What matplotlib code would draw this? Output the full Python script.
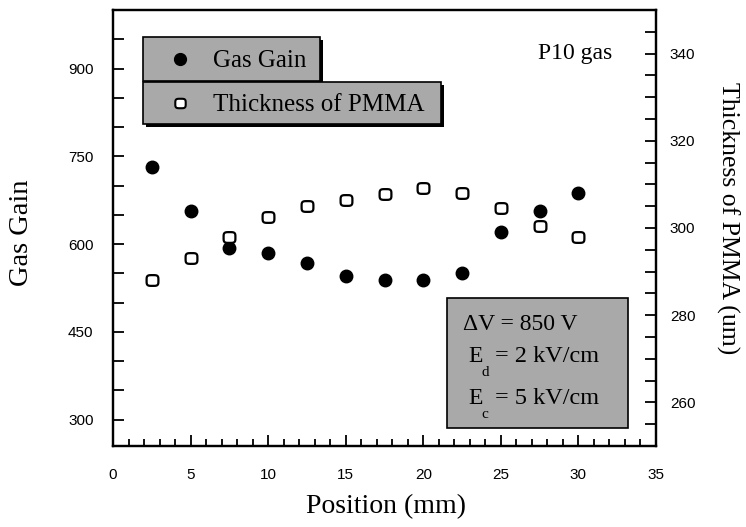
import numpy as np
import matplotlib
matplotlib.use("Agg")
import matplotlib.pyplot as plt
from matplotlib.patches import Rectangle
from matplotlib.lines import Line2D
from matplotlib.path import Path

# ---- data ----
position = [2.5, 5, 7.5, 10, 12.5, 15, 17.5, 20, 22.5, 25, 27.5, 30]
gas_gain = [731, 656, 594, 584, 568, 546, 539, 539, 550, 621, 657, 688]
pmma_thickness = [288.1, 293.1, 297.9, 302.5, 305.0, 306.4, 307.8, 309.2, 308.0, 304.6, 300.5, 297.9]
left_ticklabels = [300, 450, 600, 750, 900]
right_ticklabels = [260, 280, 300, 320, 340]
x_ticklabels = [0, 5, 10, 15, 20, 25, 30, 35]

W, H = 746, 527
fig = plt.figure(figsize=(W / 100, H / 100), dpi=100)

def fx(px):
    return px / W

def fy(py):
    return 1 - py / H

L, R, T, B = 113, 656, 10, 446
ax = fig.add_axes([fx(L), fy(B), fx(R) - fx(L), fy(T) - fy(B)])
ax2 = ax.twinx()

serif = "Liberation Serif"
sans = "Liberation Sans"

# rounded square marker for the open symbol
t = np.linspace(0, 2 * np.pi, 80)
n = 4.0
mx = np.sign(np.cos(t)) * np.abs(np.cos(t)) ** (2 / n) * 1.1
my = np.sign(np.sin(t)) * np.abs(np.sin(t)) ** (2 / n)
rsq = Path(np.column_stack([mx, my]), closed=True)

ax.plot(position, gas_gain, linestyle="none", marker="o", markersize=9,
        markerfacecolor="black", markeredgecolor="black", zorder=5)
ax2.plot(position, pmma_thickness, linestyle="none", marker=rsq, markersize=8.5,
         markerfacecolor="white", markeredgecolor="black", markeredgewidth=1.6, zorder=5)

ax.set_xlim(0, 35)
ax.set_ylim(255, 1000)
ax2.set_ylim(250, 350)

# ticks
tfs = 11
ax.set_xticks(x_ticklabels)
ax.set_xticklabels([str(v) for v in x_ticklabels], fontfamily=sans, fontsize=tfs)
ax.set_xticks(np.arange(0, 35.01, 1), minor=True)
ax.set_yticks(np.arange(300, 951, 50))
ax.set_yticklabels([str(int(v)) if int(v) in left_ticklabels else "" for v in np.arange(300, 951, 50)],
                   fontfamily=sans, fontsize=tfs)
ax2.set_yticks(np.arange(255, 350, 5))
ax2.set_yticklabels([str(int(v)) if int(v) in right_ticklabels else "" for v in np.arange(255, 350, 5)],
                    fontfamily=sans, fontsize=tfs)

ax.tick_params(axis="x", which="major", direction="in", length=8, width=1.3, pad=16, top=False)
ax.tick_params(axis="x", which="minor", direction="in", length=5, width=1.3, top=False)
ax.tick_params(axis="y", which="major", direction="in", length=8, width=1.3, pad=14, right=False)
ax2.tick_params(axis="y", which="major", direction="in", length=8, width=1.3, pad=10)

for a in (ax, ax2):
    for s in a.spines.values():
        s.set_linewidth(1.6)

# axis labels
fig.text(fx(22), fy(233), "Gas Gain", rotation=90, ha="center", va="center",
         fontfamily=serif, fontsize=20.5)
fig.text(fx(728), fy(218), "Thickness of PMMA (um)", rotation=270, ha="center", va="center",
         fontfamily=serif, fontsize=18.5)
fig.text(fx(386), fy(507), "Position (mm)", ha="center", va="center",
         fontfamily=serif, fontsize=20)

# legend boxes with shadow
gray = "#a9a9a9"
def box(x0, y0, x1, y1, shadow=True):
    if shadow:
        fig.patches.append(Rectangle((fx(x0 + 3), fy(y1 + 3)), fx(x1 - x0), fy(y0) - fy(y1),
                                     transform=fig.transFigure, facecolor="black",
                                     edgecolor="none", zorder=9))
    fig.patches.append(Rectangle((fx(x0), fy(y1)), fx(x1 - x0), fy(y0) - fy(y1),
                                 transform=fig.transFigure, facecolor=gray,
                                 edgecolor="black", linewidth=1.2, zorder=10))

box(143, 37, 320, 81)
box(143, 82, 441, 124)
fig.lines.append(Line2D([fx(180)], [fy(59)], transform=fig.transFigure, marker="o",
                        markersize=8.5, markerfacecolor="black", markeredgecolor="black",
                        linestyle="none", zorder=11))
fig.lines.append(Line2D([fx(180)], [fy(103)], transform=fig.transFigure, marker=rsq,
                        markersize=7.5, markerfacecolor="white", markeredgecolor="black",
                        markeredgewidth=1.5, linestyle="none", zorder=11))
fig.text(fx(213), fy(61), "Gas Gain", ha="left", va="center", fontfamily=serif,
         fontsize=18, zorder=12)
fig.text(fx(213), fy(105), "Thickness of PMMA", ha="left", va="center", fontfamily=serif,
         fontsize=18, zorder=12)

# P10 gas
fig.text(fx(575), fy(53), "P10 gas", ha="center", va="center", fontfamily=serif,
         fontsize=17, zorder=12)

# info box
box(447, 298, 628, 428, shadow=False)
fig.text(fx(463), fy(325), "ΔV = 850 V", ha="left", va="center", fontfamily=serif,
         fontsize=17, zorder=12)
fig.text(fx(468), fy(356), "E", ha="left", va="center", fontfamily=serif, fontsize=17, zorder=12)
fig.text(fx(481), fy(372), "d", ha="left", va="center", fontfamily=serif, fontsize=11, zorder=12)
fig.text(fx(495), fy(356), "= 2 kV/cm", ha="left", va="center", fontfamily=serif,
         fontsize=17.5, zorder=12)
fig.text(fx(468), fy(399), "E", ha="left", va="center", fontfamily=serif, fontsize=17, zorder=12)
fig.text(fx(481), fy(414), "c", ha="left", va="center", fontfamily=serif, fontsize=11, zorder=12)
fig.text(fx(495), fy(399), "= 5 kV/cm", ha="left", va="center", fontfamily=serif,
         fontsize=17.5, zorder=12)

fig.savefig("out.png", dpi=100)
